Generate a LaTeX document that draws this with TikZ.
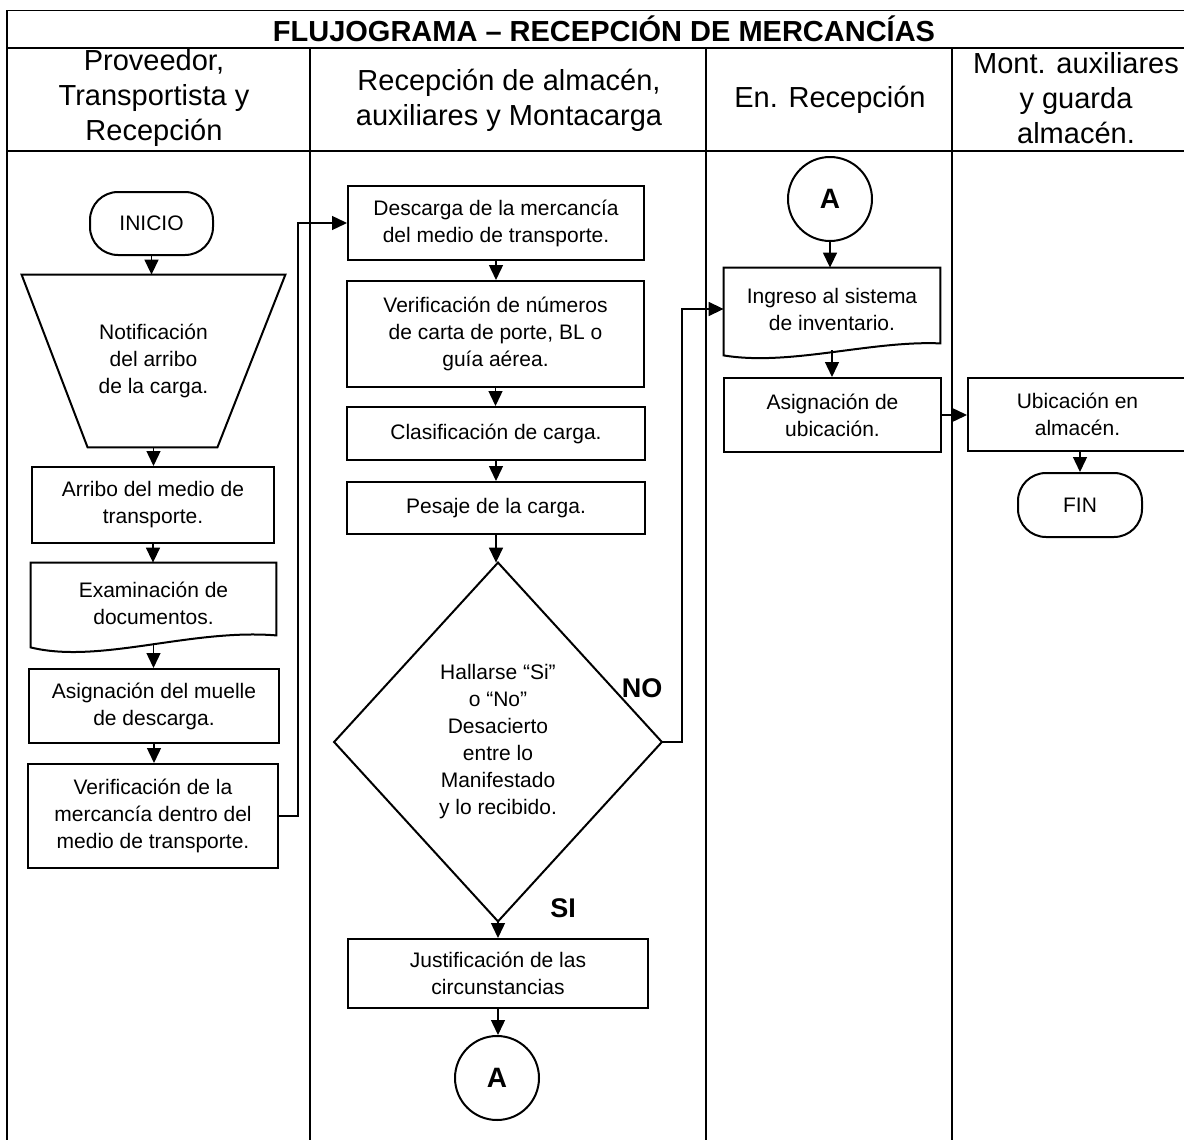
\documentclass[tikz,border=0pt]{standalone}
\usepackage{fontspec}
\setmainfont{Liberation Sans}
\usetikzlibrary{arrows.meta,calc}
\newcommand{\bodyfont}{\fontsize{10.5}{13.5}\selectfont}
\newcommand{\headfont}{\fontsize{14.5}{17.5}\selectfont}
\begin{document}
\begin{tikzpicture}[x=0.5pt,y=-0.5pt,
  box/.style={draw,line width=1pt,align=center,inner sep=0pt,font=\bodyfont},
  plain/.style={draw=none,align=center,inner sep=0pt,font=\bodyfont},
  term/.style={box,rounded corners=14pt},
  conn/.style={line width=0.7pt,-{Triangle[length=7.5pt,width=7pt]}},
  lane/.style={line width=0.9pt},
  outline/.style={line width=1pt},
  hdr/.style={align=center,font=\headfont,inner sep=0pt},
  lbl/.style={font=\fontsize{13.5}{16}\selectfont\bfseries,inner sep=0pt},
  conA/.style={draw,circle,line width=1pt,minimum size=42pt,inner sep=0pt,font=\fontsize{14}{16}\selectfont\bfseries}]
\useasboundingbox (0,0) rectangle (1184,1140);
\fill[white] (0,0) rectangle (1184,1140);
% frame
\draw[line width=0.5pt] (7,10) -- (1190,10);
\draw[lane] (7,10) -- (7,1141);
\draw[line width=1pt] (7,48) -- (1190,48);
\draw[line width=1pt] (7,151) -- (1190,151);
\draw[lane] (310,48) -- (310,1141);
\draw[lane] (706,48) -- (706,1141);
\draw[lane] (952,48) -- (952,1141);
% titles
\node[font=\fontsize{14.5}{17}\selectfont\bfseries,inner sep=0pt] (title) at (604,29) {FLUJOGRAMA – RECEPCIÓN DE MERCANCÍAS};
\node[hdr] (h1) at (154,98) {Proveedor,\\Transportista y\\Recepción};
\node[hdr] (h2) at (509,100) {Recepción de almacén,\\auxiliares y Montacarga};
\node[hdr] (h3) at (830,100) {En. Recepción};
\node[hdr] (h4) at (1076,98) {Mont. auxiliares\\y guarda\\almacén.};
% lane 1
\node[term,minimum width=61.5pt,minimum height=31.5pt] (inicio) at (151.5,223.5) {INICIO};
\node[plain,minimum width=131.5pt,minimum height=86pt] (notif) at (153.5,361) {Notificación\\del arribo\\de la carga.};
\draw[outline] (notif.north west) -- (notif.north east) -- ($(notif.south east)+(-68,0)$) -- ($(notif.south west)+(66,0)$) -- cycle;
\node[box,minimum width=121pt,minimum height=38pt] (arribo) at (153,505) {Arribo del medio de\\transporte.};
\node[plain,minimum width=122.5pt,minimum height=40pt] (exam) at (153.5,603) {Examinación de\\documentos.};
\draw[outline] (exam.north west) -- (exam.north east) -- ($(exam.south east)+(0,-8)$) .. controls ($(exam.south east)+(-86,-15)$) and ($(exam.south west)+(69,21)$) .. ($(exam.south west)+(0,4)$) -- cycle;
\node[box,minimum width=125pt,minimum height=37pt] (asig) at (154,706) {Asignación del muelle\\de descarga.};
\node[box,minimum width=125pt,minimum height=52pt] (verif) at (153,816) {Verificación de la\\mercancía dentro del\\medio de transporte.};
% lane 2
\node[box,minimum width=148pt,minimum height=37pt] (desc) at (496,223) {Descarga de la mercancía\\del medio de transporte.};
\node[box,minimum width=148.5pt,minimum height=53pt] (vnum) at (495.5,334) {Verificación de números\\de carta de porte, BL o\\guía aérea.};
\node[box,minimum width=149pt,minimum height=26.5pt] (clas) at (496,433.5) {Clasificación de carga.};
\node[box,minimum width=149pt,minimum height=26pt] (pesa) at (496,508) {Pesaje de la carga.};
\node[plain,minimum width=163.5pt,minimum height=179pt] (dia) at (498,742) {Hallarse “Si”\\o “No”\\Desacierto\\entre lo\\Manifestado\\y lo recibido.};
\draw[outline] (dia.north) -- (dia.east) -- (dia.south) -- (dia.west) -- cycle;
\node[box,minimum width=150pt,minimum height=34.5pt] (just) at (498,973.5) {Justificación de las\\circunstancias};
\node[conA] (ca2) at (497,1078) {A};
\node[lbl] (no) at (642,688) {NO};
\node[lbl] (si) at (563,908) {SI};
% lane 3
\node[conA] (ca1) at (830,199) {A};
\node[plain,minimum width=108pt,minimum height=41pt] (ing) at (832,309) {Ingreso al sistema\\de inventario.};
\draw[outline] (ing.north west) -- (ing.north east) -- ($(ing.south east)+(0,-7)$) .. controls ($(ing.south east)+(-70,-10)$) and ($(ing.south west)+(66,16)$) .. ($(ing.south west)+(0,5)$) -- cycle;
\node[box,minimum width=108.5pt,minimum height=37pt] (asub) at (832.5,415) {Asignación de\\ubicación.};
% lane 4
\node[box,minimum width=109.5pt,minimum height=36.5pt] (ubic) at (1077.5,414.5) {Ubicación en\\almacén.};
\node[term,minimum width=62pt,minimum height=32pt] (fin) at (1080,505) {FIN};
% connectors
\draw[conn] (inicio.south) -- (inicio.south |- notif.north);
\draw[conn] (notif.south) -- (notif.south |- arribo.north);
\draw[conn] (arribo.south) -- (arribo.south |- exam.north);
\draw[conn] (exam.south) -- (exam.south |- asig.north);
\draw[conn] (asig.south) -- (asig.south |- verif.north);
\draw[conn] (verif.east) -- ++(19,0) |- (desc.west);
\draw[conn] (desc.south) -- (desc.south |- vnum.north);
\draw[conn] (vnum.south) -- (vnum.south |- clas.north);
\draw[conn] (clas.south) -- (clas.south |- pesa.north);
\draw[conn] (pesa.south) -- (pesa.south |- dia.north);
\draw[conn] (dia.south) -- (dia.south |- just.north);
\draw[conn] (just.south) -- (just.south |- ca2.north);
\draw[conn] (dia.east) -- ++(20,0) |- (ing.west);
\draw[conn] (ca1.south) -- (ca1.south |- ing.north);
\draw[conn] (ing.south) -- (ing.south |- asub.north);
\draw[conn] (asub.east) -- (asub.east -| ubic.west);
\draw[conn] (fin.north |- ubic.south) -- (fin.north);
\end{tikzpicture}
\end{document}
